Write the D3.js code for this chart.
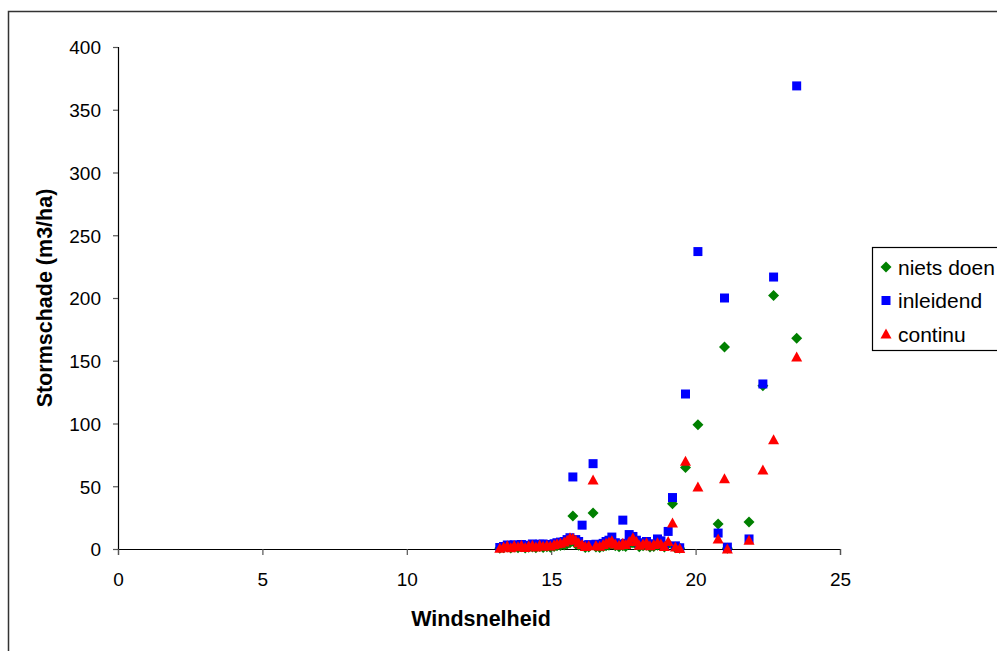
<!DOCTYPE html>
<html><head><meta charset="utf-8">
<script src="https://cdn.jsdelivr.net/npm/d3@7"></script>
<style>body{margin:0;background:#fff}svg{display:block}</style>
</head><body>
<script>
// Wind speed (x) per observation
const windsnelheid = [13.22,13.35,13.48,13.6,13.72,13.85,13.97,14.1,14.22,14.35,14.47,14.6,14.72,14.85,14.97,15.1,15.2,15.32,15.45,15.55,15.65,15.75,15.85,15.95,16.07,16.18,16.3,16.45,16.55,16.68,16.8,16.9,17.0,17.1,17.22,17.35,17.48,17.58,17.7,17.83,17.95,18.05,18.18,18.3,18.42,18.55,18.68,18.8,18.92,19.05,19.2,19.3,19.45,19.65,20.08,20.78,21.0,21.1,21.85,22.33,22.7,23.5];
const nietsDoen = [0.5,1,1.5,0.8,1.5,1,1.8,0.7,1.3,1.6,1,2,1.2,1.8,1.4,2,2.5,2.8,3.2,4,5,26.3,4,3,2.5,1.2,1.5,28.7,1.6,1.2,2,2.5,3,4,2.5,1.8,2.5,2,3.5,5,3.5,1.8,2.5,3,1.5,2,3,2.5,1.5,4,36,1,0.5,65,99,20,161,0.5,21.5,130,202,168];
const inleidend = [1.2,2,3.2,1.8,3.3,2.4,3.6,1.8,3,4,2.2,3.8,4,3.6,3,4.2,5,5.5,6,7.5,9,57.4,7.5,6,19,3,3.5,68,3.8,3.2,4.5,6,7,9.5,5,4,23,4.5,11.5,10,7,3.8,5,6,3.2,4.2,8,6.5,2.8,14,41,2.5,1,123.5,237,12.7,200,1.5,8,131.5,216.7,369];
const continu = [0.5,1.5,2.5,1,2.8,1.8,3,1.2,2.5,2.9,1.6,3.2,2.2,3,2.4,3.4,4.2,4.5,5.5,7,9,8.5,7,5,3.5,2,2.5,55,2.8,2.2,3.6,4.5,5.5,6.5,4,3,4.5,3.5,6,9,6,3,4,5,2.5,3.5,5,4,2,6,20.7,1.5,0.3,70,49.5,8,56,0,7,63,87,153];
const xTicks = [0,5,10,15,20,25];
const yTicks = [0,50,100,150,200,250,300,350,400];
const seriesNames = ["niets doen","inleidend","continu"];
const seriesColors = ["#008000","#0000ff","#ff0000"];

const W=997,H=651;
const svg=d3.select("body").append("svg").attr("width",W).attr("height",H);
const font="Liberation Sans, Arial, sans-serif";

// outer frame
svg.append("rect").attr("x",8.5).attr("y",11.5).attr("width",W+20).attr("height",H+20)
  .attr("fill","none").attr("stroke","#333").attr("stroke-width",1.5);

const x=d3.scaleLinear().domain([0,25]).range([118,840]);
const y=d3.scaleLinear().domain([0,400]).range([549,47]);

const yAxis=svg.append("g").attr("transform","translate(118,0)")
  .call(d3.axisLeft(y).tickValues(yTicks).tickSize(5).tickPadding(12));
const xAxis=svg.append("g").attr("transform","translate(0,549)")
  .call(d3.axisBottom(x).tickValues(xTicks).tickSize(6).tickPadding(18));
[xAxis,yAxis].forEach(g=>{
  g.select(".domain").attr("stroke","#000").attr("stroke-width",1.2);
  g.selectAll(".tick line").attr("stroke","#555").attr("stroke-width",1.2);
  g.selectAll("text").attr("font-family",font).attr("font-size",19).attr("fill","#000");
});
yAxis.selectAll("text").attr("dy","0.36em");

svg.append("text").attr("x",481).attr("y",626).attr("text-anchor","middle")
  .attr("font-family",font).attr("font-weight","bold").attr("font-size",21.5).text("Windsnelheid");
svg.append("text").attr("transform","translate(52,298) rotate(-90)").attr("text-anchor","middle")
  .attr("font-family",font).attr("font-weight","bold").attr("font-size",21.5).text("Stormschade (m3/ha)");

const shapes=[
  (cx,cy)=>`M${cx},${cy-5.5}L${cx+5.5},${cy}L${cx},${cy+5.5}L${cx-5.5},${cy}Z`,
  (cx,cy)=>`M${cx-4.5},${cy-4.5}h9v9h-9Z`,
  (cx,cy)=>`M${cx},${cy-5.5}L${cx+5.5},${cy+4.5}L${cx-5.5},${cy+4.5}Z`
];
const data=[nietsDoen,inleidend,continu];
data.forEach((vals,i)=>{
  svg.append("g").selectAll("path").data(vals).join("path")
    .attr("d",(v,j)=>shapes[i](x(windsnelheid[j]),y(v)))
    .attr("fill",seriesColors[i]);
});

// legend
const lg=svg.append("g");
lg.append("rect").attr("x",872.5).attr("y",247.5).attr("width",140).attr("height",103)
  .attr("fill","#fff").attr("stroke","#000").attr("stroke-width",1.2);
seriesNames.forEach((n,i)=>{
  const cy=267+i*33.5;
  lg.append("path").attr("d",shapes[i](886,cy)).attr("fill",seriesColors[i]);
  lg.append("text").attr("x",898).attr("y",cy).attr("dy","0.36em")
    .attr("font-family",font).attr("font-size",21).text(n);
});
</script>
</body></html>
